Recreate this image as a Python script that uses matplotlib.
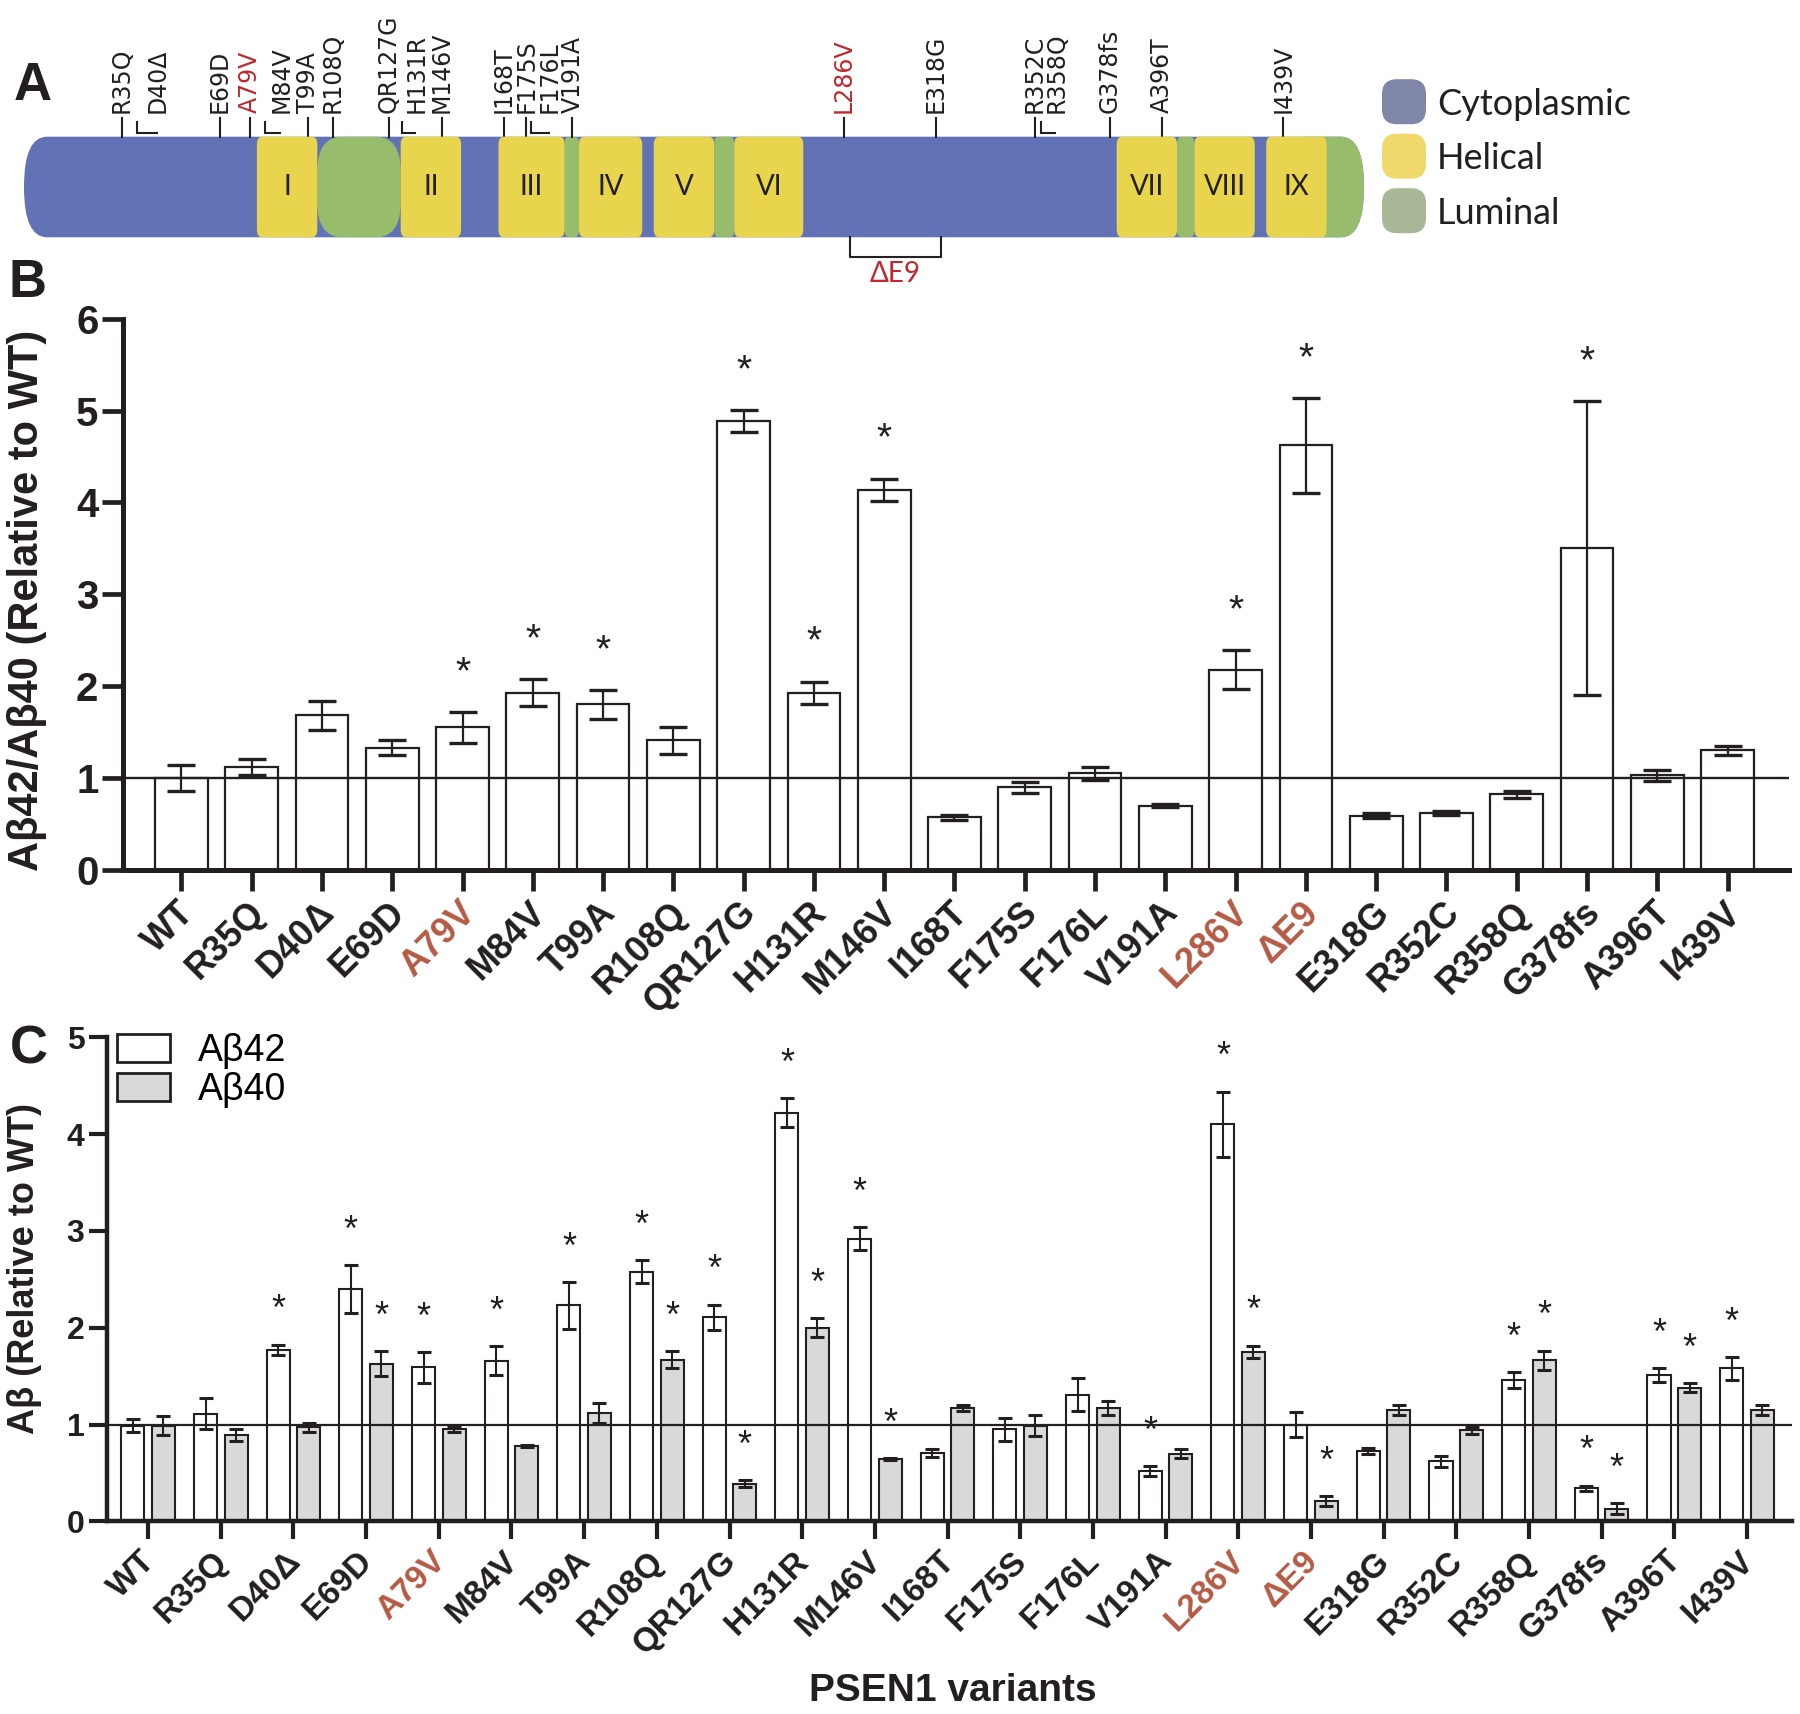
import matplotlib
matplotlib.use("Agg")
import matplotlib.pyplot as plt
from matplotlib.patches import FancyBboxPatch, Patch
from matplotlib.transforms import ScaledTranslation
import numpy as np

plt.rcParams['font.family'] = ['Liberation Sans', 'DejaVu Sans']

W, H, DPI = 1800, 1714, 100
INK = '#231F20'
RED_TICK = '#B55B45'
RED_A = '#C1272D'
BLUE, YELLOW, GREEN = '#6272B6', '#E8D44D', '#97BD6C'
GRAY_BAR = '#D9D9D9'

# ---------------- data ----------------
variants = ['WT', 'R35Q', 'D40Δ', 'E69D', 'A79V', 'M84V', 'T99A', 'R108Q', 'QR127G', 'H131R',
            'M146V', 'I168T', 'F175S', 'F176L', 'V191A', 'L286V', 'ΔE9', 'E318G', 'R352C',
            'R358Q', 'G378fs', 'A396T', 'I439V']
highlight = ['A79V', 'L286V', 'ΔE9']

# Panel B: Abeta42/Abeta40 ratio
ratio_mean = [1.00, 1.12, 1.68, 1.33, 1.55, 1.93, 1.80, 1.41, 4.89, 1.93, 4.14, 0.57, 0.90,
              1.05, 0.70, 2.18, 4.62, 0.59, 0.62, 0.82, 3.50, 1.03, 1.30]
ratio_err = [0.14, 0.09, 0.16, 0.08, 0.17, 0.15, 0.16, 0.15, 0.12, 0.12, 0.12, 0.03, 0.06,
             0.07, 0.02, 0.21, 0.52, 0.03, 0.025, 0.035, 1.60, 0.06, 0.05]
ratio_sig = ['A79V', 'M84V', 'T99A', 'QR127G', 'H131R', 'M146V', 'L286V', 'ΔE9', 'G378fs']

# Panel C: Abeta42 and Abeta40
ab42_mean = [0.99, 1.11, 1.77, 2.40, 1.59, 1.66, 2.23, 2.58, 2.11, 4.22, 2.92, 0.71, 0.95,
             1.31, 0.52, 4.10, 1.00, 0.73, 0.62, 1.46, 0.34, 1.51, 1.58]
ab42_err = [0.07, 0.16, 0.055, 0.25, 0.16, 0.15, 0.24, 0.12, 0.13, 0.15, 0.12, 0.04, 0.12,
            0.17, 0.05, 0.34, 0.13, 0.03, 0.055, 0.08, 0.03, 0.07, 0.12]
ab40_mean = [0.99, 0.89, 0.97, 1.63, 0.955, 0.78, 1.12, 1.67, 0.39, 2.00, 0.64, 1.17, 0.99,
             1.17, 0.70, 1.75, 0.21, 1.15, 0.94, 1.665, 0.13, 1.38, 1.15]
ab40_err = [0.10, 0.06, 0.05, 0.13, 0.035, 0.01, 0.10, 0.09, 0.035, 0.10, 0.01, 0.03, 0.11,
            0.07, 0.05, 0.065, 0.05, 0.05, 0.04, 0.10, 0.055, 0.045, 0.05]
ab42_sig = ['D40Δ', 'E69D', 'A79V', 'M84V', 'T99A', 'R108Q', 'QR127G', 'H131R', 'M146V',
            'V191A', 'L286V', 'R358Q', 'G378fs', 'A396T', 'I439V']
ab40_sig = ['E69D', 'R108Q', 'QR127G', 'H131R', 'M146V', 'L286V', 'ΔE9', 'R358Q', 'G378fs',
            'A396T']

# Panel A: PSEN1 topology (residue numbers, protein length 467)
protein_len = 467
helix_names = ['I', 'II', 'III', 'IV', 'V', 'VI', 'VII', 'VIII', 'IX']
helix_start = [82, 132, 166, 194, 220, 248, 381, 408, 433]
helix_end = [103, 153, 189, 216, 241, 272, 402, 429, 454]
luminal_start = [103, 189, 241, 402, 454]
luminal_end = [132, 194, 248, 408, 467]
mut_names = ['R35Q', 'D40Δ', 'E69D', 'A79V', 'M84V', 'T99A', 'R108Q', 'QR127G', 'H131R',
             'M146V', 'I168T', 'F175S', 'F176L', 'V191A', 'L286V', 'E318G', 'R352C', 'R358Q',
             'G378fs', 'A396T', 'I439V']
mut_site = [35, 40.2, 69.1, 79.5, 84.9, 99.9, 108.5, 127.8, 132.4, 146.4, 167.9, 175.7, 177.2,
            191.7, 286.1, 318.2, 352.5, 354.5, 378.5, 396.8, 439.0]
mut_label = [35, 47.6, 69.1, 79.5, 90.5, 99.9, 108.5, 127.8, 137.4, 146.4, 167.9, 175.7, 183.9,
             191.7, 286.1, 318.2, 352.5, 360.0, 378.5, 396.8, 439.0]
exon9 = [288.1, 319.9]
red_mut = ['A79V', 'L286V']

legend_a = ['Cytoplasmic', 'Helical', 'Luminal']
legend_a_colors = ['#7F86A8', '#F0D86A', '#A8B896']

# ---------------- figure ----------------
fig = plt.figure(figsize=(W / DPI, H / DPI), dpi=DPI)


def px_axes(left, top, right, bottom):
    return [left / W, 1 - bottom / H, (right - left) / W, (bottom - top) / H]


# ---------- Panel A ----------
ax_a = fig.add_axes(px_axes(24, 0, 1364, 290))
ax_a.set_xlim(1, protein_len)
ax_a.set_ylim(290, 0)
ax_a.axis('off')
BAR_TOP, BAR_BOT = 136.7, 237.3
bh = BAR_BOT - BAR_TOP


def rbox(x0, x1, color, r, asp, z):
    p = FancyBboxPatch((x0, BAR_TOP), x1 - x0, bh,
                       boxstyle=f'round,pad=0,rounding_size={r}',
                       mutation_aspect=asp, fc=color, ec='none', zorder=z)
    ax_a.add_patch(p)


rbox(1, protein_len, BLUE, 8.0, 6.25, 1)
for s, e in zip(luminal_start, luminal_end):
    if e == protein_len:
        rbox(s - 14, e, GREEN, 8.0, 6.25, 2)
    elif e - s > 20:
        rbox(s, e, GREEN, 8.7, 4.0, 2)
    else:
        rbox(s, e, GREEN, 1.7, 4.0, 2)
for s, e, nm in zip(helix_start, helix_end, helix_names):
    rbox(s, e, YELLOW, 1.8, 4.5, 3)
    ax_a.text((s + e) / 2, 187, nm, ha='center', va='center', fontsize=20,
              family='Lato', color=INK, zorder=4)

for nm, site, lab in zip(mut_names, mut_site, mut_label):
    col = RED_A if nm in red_mut else INK
    ax_a.text(lab, 113, nm, rotation=90, ha='center', va='bottom', fontsize=17,
              family='DejaVu Sans', color=col)
    if abs(site - lab) > 0.5:
        ax_a.plot([site, site, lab], [121, 133, 133], color=INK, lw=1.5,
                  solid_capstyle='butt', solid_joinstyle='miter', clip_on=False)
    else:
        ax_a.plot([lab, lab], [118, BAR_TOP], color=INK, lw=1.5, clip_on=False)

ax_a.plot([exon9[0], exon9[0], exon9[1], exon9[1]], [BAR_BOT, 256.7, 256.7, BAR_BOT],
          color=INK, lw=1.5, clip_on=False)
ax_a.text(np.mean(exon9), 274, 'ΔE9', ha='center', va='center', fontsize=20, family='Lato',
          color=RED_A)

# ---------- Panel B ----------
x = np.arange(len(variants))
ax_b = fig.add_axes(px_axes(123.4, 318.7, 1789, 869.8))
ax_b.bar(x, ratio_mean, width=0.75, color='white', edgecolor=INK, linewidth=1.6, zorder=2)
ax_b.errorbar(x, ratio_mean, yerr=ratio_err, fmt='none', ecolor=INK, elinewidth=1.6,
              capsize=10.4, capthick=2.4, zorder=4)
ax_b.axhline(1, color=INK, lw=1.7, zorder=3)
ax_b.set_xlim(-0.825, 22.874)
ax_b.set_ylim(0, 6)
ax_b.set_yticks(range(0, 7))
for i, v in enumerate(variants):
    if v in ratio_sig:
        fs = 28
        ax_b.annotate('*', (i, ratio_mean[i] + ratio_err[i] + 0.55), xytext=(0, -0.56 * fs),
                      textcoords='offset points', ha='center', va='baseline', fontsize=fs,
                      color=INK)

# ---------- Panel C ----------
ax_c = fig.add_axes(px_axes(106.7, 1037.3, 1792, 1521.4))
off, bw = 0.21, 0.317
ax_c.bar(x - off, ab42_mean, width=bw, color='white', edgecolor=INK, linewidth=1.5, zorder=2,
         label='Aβ42')
ax_c.bar(x + off, ab40_mean, width=bw, color=GRAY_BAR, edgecolor=INK, linewidth=1.5, zorder=2,
         label='Aβ40')
ax_c.errorbar(x - off, ab42_mean, yerr=ab42_err, fmt='none', ecolor=INK, elinewidth=1.5,
              capsize=5, capthick=2.2, zorder=4)
ax_c.errorbar(x + off, ab40_mean, yerr=ab40_err, fmt='none', ecolor=INK, elinewidth=1.5,
              capsize=5, capthick=2.2, zorder=4)
ax_c.axhline(1, color=INK, lw=1.6, zorder=3)
ax_c.set_xlim(-0.57, 22.62)
ax_c.set_ylim(0, 5)
ax_c.set_yticks(range(0, 6))
for i, v in enumerate(variants):
    fs = 26
    if v in ab42_sig:
        ax_c.annotate('*', (i - off, ab42_mean[i] + ab42_err[i] + 0.46), xytext=(0, -0.56 * fs),
                      textcoords='offset points', ha='center', va='baseline', fontsize=fs,
                      color=INK)
    if v in ab40_sig:
        ax_c.annotate('*', (i + off, ab40_mean[i] + ab40_err[i] + 0.46), xytext=(0, -0.56 * fs),
                      textcoords='offset points', ha='center', va='baseline', fontsize=fs,
                      color=INK)

ax_c.legend(handles=[Patch(fc='white', ec=INK, lw=2, label='Aβ42'),
                     Patch(fc=GRAY_BAR, ec=INK, lw=2, label='Aβ40')],
            loc='upper left', bbox_to_anchor=(117 / W, 1 - 1033 / H),
            bbox_transform=fig.transFigure, frameon=False, fontsize=27,
            handlelength=1.42, handleheight=0.78, handletextpad=0.75, labelspacing=0.08,
            borderpad=0, borderaxespad=0)


# ---------- common axis styling ----------
def style(ax, spine_w, tick_len, tick_w, ytick_fs, xtick_fs, dx_pt, pad):
    for s in ['top', 'right']:
        ax.spines[s].set_visible(False)
    for s in ['left', 'bottom']:
        ax.spines[s].set_linewidth(spine_w)
        ax.spines[s].set_color(INK)
    ax.tick_params(axis='both', direction='out', length=tick_len, width=tick_w, color=INK)
    ax.tick_params(axis='y', pad=3, labelsize=ytick_fs)
    ax.tick_params(axis='x', pad=pad)
    for t in ax.get_yticklabels():
        t.set_fontweight('bold')
        t.set_color(INK)
    ax.set_xticks(x)
    ax.set_xticklabels(variants, rotation=45, ha='right', va='center',
                       rotation_mode='anchor', fontsize=xtick_fs, fontweight='bold')
    shift = ScaledTranslation(dx_pt / 72, 0, fig.dpi_scale_trans)
    for t, v in zip(ax.get_xticklabels(), variants):
        t.set_color(RED_TICK if v in highlight else INK)
        t.set_transform(t.get_transform() + shift)


style(ax_b, 3.6, 15, 3.4, 29, 26, 5.5, 12)
style(ax_c, 3.2, 13, 3.0, 23, 24, 1.5, 12)

fig.text(27 / W, 1 - 600 / H, 'Aβ42/Aβ40 (Relative to WT)', rotation=90, ha='center',
         va='center', fontsize=30, fontweight='bold', color=INK)
fig.text(25 / W, 1 - 1268 / H, 'Aβ (Relative to WT)', rotation=90, ha='center',
         va='center', fontsize=26, fontweight='bold', color=INK)
fig.text(953 / W, 1 - 1691 / H, 'PSEN1 variants', ha='center', va='center', fontsize=28,
         fontweight='bold', color=INK)

# ---------- overlay: panel letters and panel A legend ----------
ax_o = fig.add_axes([0, 0, 1, 1])
ax_o.set_xlim(0, W)
ax_o.set_ylim(H, 0)
ax_o.axis('off')
for letter, lx, ly in [('A', 33, 100), ('B', 28, 297), ('C', 29, 1063)]:
    ax_o.text(lx, ly, letter, ha='center', va='baseline', fontsize=38, fontweight='bold',
              color=INK)
for i, (lab, col) in enumerate(zip(legend_a, legend_a_colors)):
    yc = 101.7 + 54.5 * i
    ax_o.add_patch(FancyBboxPatch((1382, yc - 22.5), 44, 45,
                                  boxstyle='round,pad=0,rounding_size=15', fc=col, ec='none'))
    ax_o.text(1437, yc + 13, lab, ha='left', va='baseline', fontsize=26, family='Lato',
              color=INK)

fig.savefig('out.png', dpi=DPI)
